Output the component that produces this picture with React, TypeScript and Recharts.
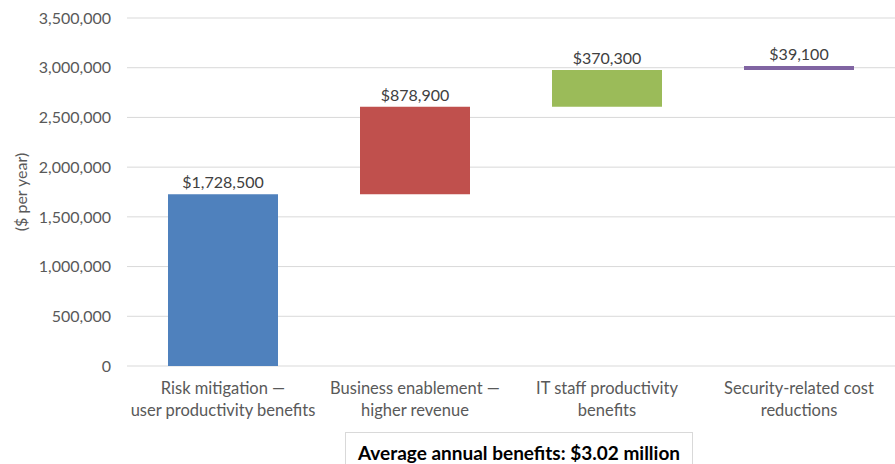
import React from 'react';
import { BarChart, Bar, XAxis, YAxis, CartesianGrid, Cell, LabelList, Label } from 'recharts';

const categories = [
  'Risk mitigation — user productivity benefits',
  'Business enablement — higher revenue',
  'IT staff productivity benefits',
  'Security-related cost reductions',
];
const categoryLines = [
  ['Risk mitigation —', 'user productivity benefits'],
  ['Business enablement —', 'higher revenue'],
  ['IT staff productivity', 'benefits'],
  ['Security-related cost', 'reductions'],
];
const benefitValues = [1728500, 878900, 370300, 39100];
const barColors = ['#4F81BD', '#C0504D', '#9BBB59', '#8064A2'];
const yTicks = [0, 500000, 1000000, 1500000, 2000000, 2500000, 3000000, 3500000];
const summaryText = 'Average annual benefits: $3.02 million';
const yAxisTitle = '($ per year)';

const baseValues: number[] = [];
benefitValues.reduce((acc, v) => {
  baseValues.push(acc);
  return acc + v;
}, 0);

const data = categories.map((c, i) => ({
  name: c,
  idx: i,
  base: baseValues[i],
  value: benefitValues[i],
}));

const FONT = 'Lato, "Open Sans", sans-serif';
const TEXT = '#595959';

const XTick = (props: any) => {
  const { x, y, payload } = props;
  const lines = categoryLines[payload.index] || [String(payload.value)];
  return (
    <g transform={`translate(${x},${y})`}>
      {lines.map((l, i) => (
        <text key={i} x={0} y={20 + i * 22} textAnchor="middle" fill={TEXT} fontSize={16.5} fontFamily={FONT}>
          {l}
        </text>
      ))}
    </g>
  );
};

const fmtNum = (v: number) => v.toLocaleString('en-US');

export default function App() {
  return (
    <div style={{ position: 'fixed', left: 0, top: 0, width: 895, height: 464, background: '#fff', overflow: 'hidden' }}>
      <BarChart
        width={895}
        height={464}
        data={data}
        margin={{ top: 18, right: 0, bottom: 0, left: 0 }}
        barSize={110}
      >
        <CartesianGrid vertical={false} stroke="#D9D9D9" />
        <XAxis
          dataKey="name"
          axisLine={false}
          tickLine={false}
          interval={0}
          height={98}
          tick={<XTick />}
        />
        <YAxis
          width={127}
          domain={[0, 3500000]}
          ticks={yTicks}
          axisLine={false}
          tickLine={false}
          tickMargin={10}
          tickFormatter={fmtNum}
          tick={{ fill: TEXT, fontSize: 16, fontFamily: FONT }}
        >
          <Label
            content={() => (
              <text
                x={20}
                y={192}
                transform="rotate(-90, 20, 192)"
                textAnchor="middle"
                dominantBaseline="central"
                fill={TEXT}
                fontSize={16}
                fontFamily={FONT}
              >
                {yAxisTitle}
              </text>
            )}
          />
        </YAxis>
        <Bar dataKey="base" stackId="w" fill="transparent" isAnimationActive={false} />
        <Bar dataKey="value" stackId="w" isAnimationActive={false}>
          {data.map((d, i) => (
            <Cell key={i} fill={barColors[i]} />
          ))}
          <LabelList
            dataKey="value"
            position="top"
            offset={6}
            formatter={(v: any) => `$${fmtNum(Number(v))}`}
            style={{ fill: '#404040', fontSize: 16, fontFamily: FONT }}
          />
        </Bar>
      </BarChart>
      <div
        style={{
          position: 'absolute',
          left: 345,
          top: 432,
          width: 348,
          height: 44,
          border: '1px solid #D9D9D9',
          boxSizing: 'border-box',
          fontFamily: FONT,
          fontWeight: 700,
          fontSize: 19,
          color: '#000',
          textAlign: 'center',
          paddingTop: 8,
          lineHeight: '24px',
          whiteSpace: 'nowrap',
        }}
      >
        {summaryText}
      </div>
    </div>
  );
}
